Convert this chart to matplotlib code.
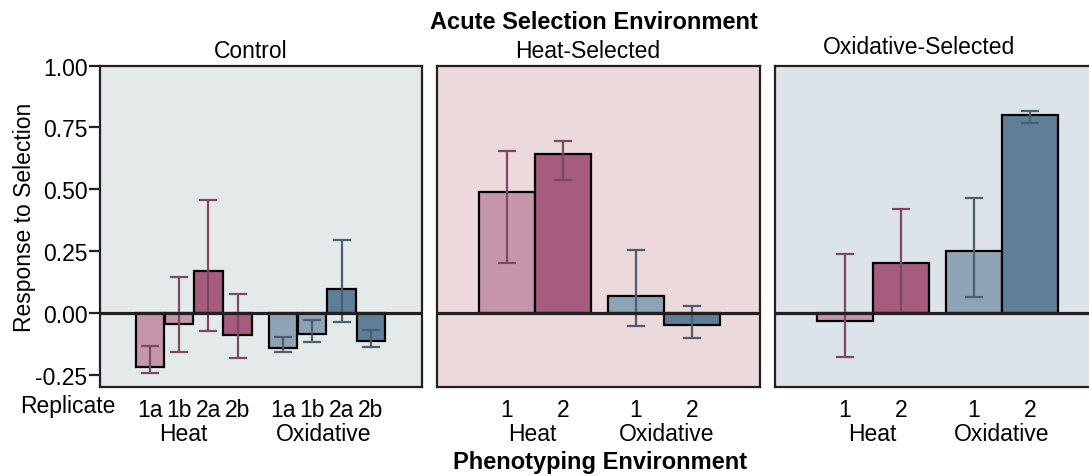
import numpy as np
import matplotlib
matplotlib.use('Agg')
import matplotlib.pyplot as plt
import matplotlib.transforms as mtransforms

plt.rcParams['font.family'] = ['Liberation Sans', 'DejaVu Sans']

#-----------------------------------------------------------------------------
# data

ctrl_labels = ['1a', '1b', '2a', '2b', '1a', '1b', '2a', '2b']
ctrl_vals = [-0.220, -0.045, 0.169, -0.089, -0.142, -0.084, 0.097, -0.115]
ctrl_lo = [-0.245, -0.157, -0.074, -0.181, -0.159, -0.119, -0.035, -0.140]
ctrl_hi = [-0.135, 0.145, 0.457, 0.077, -0.096, -0.028, 0.293, -0.069]

sel_labels = ['1', '2', '1', '2']
heat_vals = [0.487, 0.644, 0.068, -0.049]
heat_lo = [0.202, 0.538, -0.055, -0.100]
heat_hi = [0.655, 0.696, 0.254, 0.028]

oxi_vals = [-0.034, 0.202, 0.251, 0.799]
oxi_lo = [-0.177, 0.000, 0.065, 0.770]
oxi_hi = [0.238, 0.421, 0.463, 0.815]

groups = ['Heat', 'Oxidative']
yticks = [-0.25, 0.0, 0.25, 0.50, 0.75, 1.00]

#-----------------------------------------------------------------------------
# styling

pink_l, pink_d = '#c596aa', '#a55c7f'
blue_l, blue_d = '#8fa3b6', '#5f7f99'
err_pink, err_blue = '#7d4866', '#4a5f72'
ink = '#231f20'

ctrl_x = [1.7, 2.7, 3.7, 4.7, 6.25, 7.25, 8.25, 9.25]
ctrl_cols = [pink_l, pink_l, pink_d, pink_d, blue_l, blue_l, blue_d, blue_d]
ctrl_ecols = [err_pink] * 4 + [err_blue] * 4
sel_x = [1.25, 2.25, 3.55, 4.55]
sel_cols = [pink_l, pink_d, blue_l, blue_d]
sel_ecols = [err_pink, err_pink, err_blue, err_blue]

fig = plt.figure(figsize=(10.89, 4.77), dpi=100)
W, H = 1089.0, 477.0
top, bot = 66.7, 388.0

def make_ax(left, width, bg):
    ax = fig.add_axes([left / W, 1 - bot / H, width / W, (bot - top) / H])
    ax.set_facecolor(bg)
    for s in ax.spines.values():
        s.set_color(ink)
        s.set_linewidth(1.6)
    ax.set_ylim(-0.30, 1.00)
    return ax

def draw(ax, x, vals, lo, hi, cols, ecols, width):
    vals = np.array(vals); lo = np.array(lo); hi = np.array(hi)
    ax.bar(x, vals, width=width, color=cols, edgecolor='black', linewidth=1.6, zorder=2)
    for xi, v, l, h, ec in zip(x, vals, lo, hi, ecols):
        ax.errorbar(xi, v, yerr=[[v - l], [h - v]], fmt='none', ecolor=ec,
                    elinewidth=1.6, capsize=6.5, capthick=1.6, zorder=3)
    ax.axhline(0, color=ink, lw=2.3, zorder=4)

ax1 = make_ax(100, 322, '#e4e9e9')
ax2 = make_ax(437, 323, '#ecd9db')
ax3 = make_ax(775, 323, '#dce3e9')

draw(ax1, ctrl_x, ctrl_vals, ctrl_lo, ctrl_hi, ctrl_cols, ctrl_ecols, 0.97)
draw(ax2, sel_x, heat_vals, heat_lo, heat_hi, sel_cols, sel_ecols, 1.0)
draw(ax3, sel_x, oxi_vals, oxi_lo, oxi_hi, sel_cols, sel_ecols, 1.0)

ax1.set_xlim(0, 11)
ax2.set_xlim(0, 5.77)
ax3.set_xlim(0, 5.77)

fs = 16.5
ax1.set_yticks(yticks)
ax1.set_yticklabels(['%.2f' % t for t in yticks], fontsize=fs)
ax1.tick_params(axis='y', length=8, width=1.6, color=ink, pad=1)
ax1.set_ylabel('Response to Selection', fontsize=fs)
ax1.yaxis.set_label_coords(-0.198, 0.53)

for ax, xs, labs in [(ax1, ctrl_x, ctrl_labels), (ax2, sel_x, sel_labels), (ax3, sel_x, sel_labels)]:
    ax.set_xticks(xs)
    ax.set_xticklabels(labs, fontsize=fs)
    ax.tick_params(axis='x', length=0, pad=8)
for ax in (ax2, ax3):
    ax.set_yticks([])

# group labels under the tick labels
grp_pos = {ax1: [2.83, 7.65], ax2: [1.70, 4.11], ax3: [1.73, 4.05]}
for ax, xs in grp_pos.items():
    tr = mtransforms.blended_transform_factory(ax.transData, ax.transAxes)
    for g, gx in zip(groups, xs):
        ax.text(gx, -0.145, g, transform=tr, ha='center', va='center', fontsize=fs)

fig.text(68 / W, 1 - 407 / H, 'Replicate', ha='center', va='center', fontsize=fs)

fig.text(251 / W, 1 - 52 / H, 'Control', ha='center', va='center', fontsize=fs)
fig.text(588 / W, 1 - 52 / H, 'Heat-Selected', ha='center', va='center', fontsize=fs)
fig.text(919 / W, 1 - 47.5 / H, 'Oxidative-Selected', ha='center', va='center', fontsize=fs)
fig.text(594 / W, 1 - 22.5 / H, 'Acute Selection Environment', ha='center', va='center',
         fontsize=17, fontweight='bold')
fig.text(600 / W, 1 - 463 / H, 'Phenotyping Environment', ha='center', va='center',
         fontsize=17, fontweight='bold')

fig.savefig('out.png', dpi=100)
